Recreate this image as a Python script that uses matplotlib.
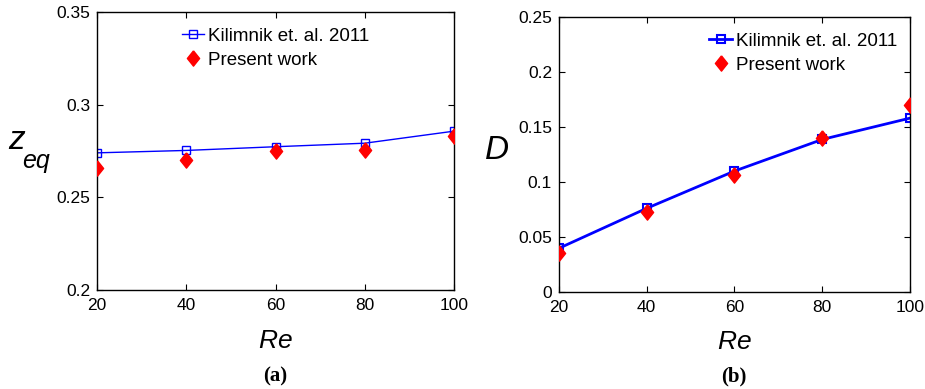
import matplotlib
matplotlib.use("Agg")
import matplotlib.pyplot as plt

plt.rcParams['font.family'] = ['Liberation Sans', 'DejaVu Sans']
plt.rcParams['mathtext.fontset'] = 'custom'
plt.rcParams['mathtext.it'] = 'Liberation Sans:italic'
plt.rcParams['mathtext.rm'] = 'Liberation Sans'

# Reynolds numbers shared by both panels
re_values = [20, 40, 60, 80, 100]

# Panel (a): equilibrium position
zeq_kilimnik = [0.274, 0.2753, 0.2773, 0.2792, 0.2857]
zeq_present = [0.266, 0.270, 0.2749, 0.2754, 0.2833]

# Panel (b): D
d_kilimnik = [0.0394, 0.0758, 0.1097, 0.1385, 0.1579]
d_present = [0.0348, 0.0727, 0.106, 0.1394, 0.170]

# MATLAB-like diamond (wider than matplotlib's thin diamond)
diamond = [(0, 1), (0.8, 0), (0, -1), (-0.8, 0), (0, 1)]

fig = plt.figure(figsize=(9.25, 3.89), dpi=100)
ax1 = fig.add_axes([0.1049, 0.2545, 0.3859, 0.7147])
ax2 = fig.add_axes([0.6043, 0.2506, 0.3795, 0.7057])


def style_axis(ax):
    ax.tick_params(direction='in', top=True, right=True, labelsize=12.5, length=4, width=0.8)
    ax.tick_params(axis='x', pad=6)
    ax.tick_params(axis='y', pad=5)
    for sp in ax.spines.values():
        sp.set_linewidth(1.0)
    ax.set_xlim(20, 100)
    ax.set_xticks(re_values)


# Left panel
ax1.plot(re_values, zeq_kilimnik, color='blue', lw=1.0, marker='s', ms=6,
         mfc='none', mec='blue', mew=1.0, label='Kilimnik et. al. 2011')
ax1.plot(re_values, zeq_present, ls='none', marker=diamond, ms=11, color='red',
         label='Present work', zorder=3)
style_axis(ax1)
ax1.set_ylim(0.2, 0.35)
ax1.set_yticks([0.2, 0.25, 0.3, 0.35])
ax1.set_yticklabels(['0.2', '0.25', '0.3', '0.35'])
ax1.set_xlabel('$Re$', fontsize=19, labelpad=11)
# y label z_eq drawn as two texts so the subscript stays large
ax1.text(-0.224, 0.536, 'z', transform=ax1.transAxes, fontsize=24, style='italic',
         ha='center', va='center')
ax1.text(-0.17, 0.465, 'eq', transform=ax1.transAxes, fontsize=18, style='italic',
         ha='center', va='center')
ax1.legend(loc='upper center', bbox_to_anchor=(0.5, 0.99), frameon=False, fontsize=13.5,
           handlelength=1.2, handletextpad=0.2, borderaxespad=0.3, labelspacing=0.35)
fig.text(0.297, 0.02, '(a)', ha='center', fontsize=15, fontweight='bold',
         family='Liberation Serif')

# Right panel
ax2.plot(re_values, d_kilimnik, color='blue', lw=2.0, marker='s', ms=6,
         mfc='none', mec='blue', mew=1.5, label='Kilimnik et. al. 2011')
ax2.plot(re_values, d_present, ls='none', marker=diamond, ms=11, color='red',
         label='Present work', zorder=3)
style_axis(ax2)
ax2.set_ylim(0, 0.25)
ax2.set_yticks([0, 0.05, 0.1, 0.15, 0.2, 0.25])
ax2.set_yticklabels(['0', '0.05', '0.1', '0.15', '0.2', '0.25'])
ax2.set_xlabel('$Re$', fontsize=19, labelpad=11)
ax2.set_ylabel('D', fontsize=24, style='italic', rotation=0, va='center', ha='center')
ax2.yaxis.set_label_coords(-0.177, 0.512)
ax2.legend(loc='upper right', bbox_to_anchor=(1.0, 0.99), frameon=False, fontsize=13.5,
           handlelength=1.2, handletextpad=0.2, borderaxespad=0.3, labelspacing=0.35)
fig.text(0.793, 0.02, '(b)', ha='center', fontsize=15, fontweight='bold',
         family='Liberation Serif')

fig.savefig('out.png', dpi=100)
